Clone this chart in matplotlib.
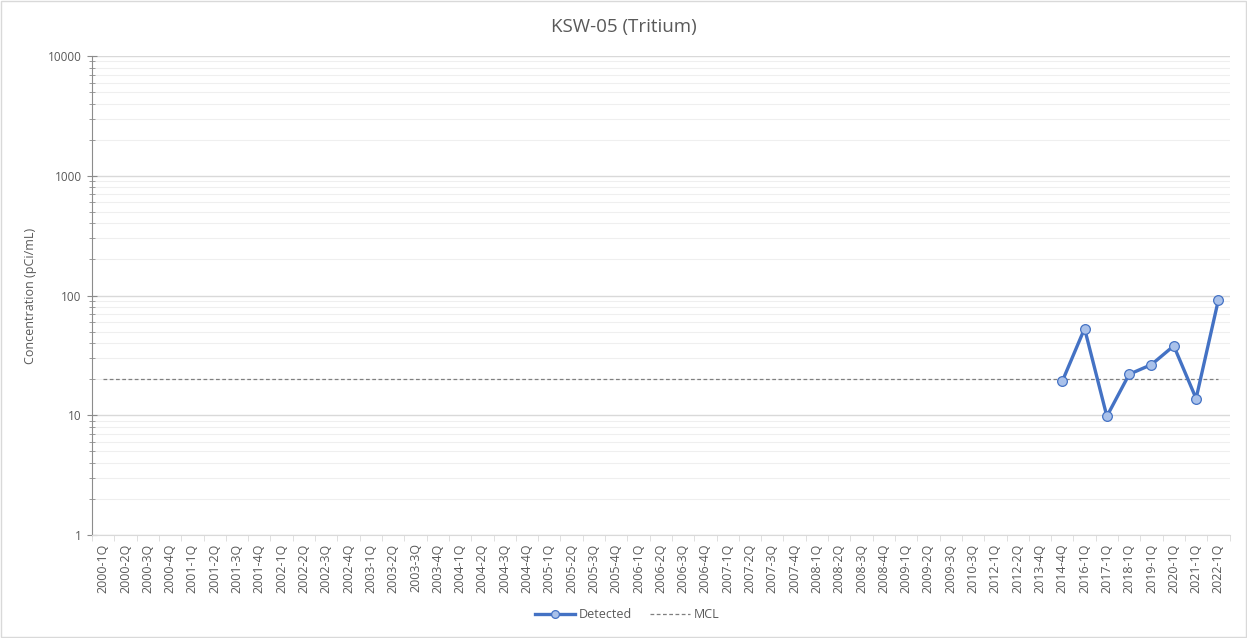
import numpy as np
import matplotlib.pyplot as plt
from matplotlib.ticker import LogLocator, FixedLocator, NullFormatter
from matplotlib.patches import Rectangle

plt.rcParams['font.family'] = ['Open Sans', 'DejaVu Sans']

# Sampling events (quarters)
quarters = [
    '2000-1Q', '2000-2Q', '2000-3Q', '2000-4Q', '2001-1Q', '2001-2Q', '2001-3Q', '2001-4Q',
    '2002-1Q', '2002-2Q', '2002-3Q', '2002-4Q', '2003-1Q', '2003-2Q', '2003-3Q', '2003-4Q',
    '2004-1Q', '2004-2Q', '2004-3Q', '2004-4Q', '2005-1Q', '2005-2Q', '2005-3Q', '2005-4Q',
    '2006-1Q', '2006-2Q', '2006-3Q', '2006-4Q', '2007-1Q', '2007-2Q', '2007-3Q', '2007-4Q',
    '2008-1Q', '2008-2Q', '2008-3Q', '2008-4Q', '2009-1Q', '2009-2Q', '2009-3Q', '2010-3Q',
    '2012-1Q', '2012-2Q', '2013-4Q', '2014-4Q', '2016-1Q', '2017-1Q', '2018-1Q', '2019-1Q',
    '2020-1Q', '2021-1Q', '2022-1Q',
]

# Detected tritium results (pCi/mL)
detected_quarters = ['2014-4Q', '2016-1Q', '2017-1Q', '2018-1Q', '2019-1Q',
                     '2020-1Q', '2021-1Q', '2022-1Q']
detected_values = [19.2, 53.0, 9.8, 22.0, 26.5, 38.0, 13.8, 92.0]

mcl = 20

blue = '#4472C4'
gray_txt = '#595959'

x = np.arange(len(quarters))
xd = [quarters.index(q) for q in detected_quarters]

fig = plt.figure(figsize=(12.47, 6.38), dpi=100)
ax = fig.add_axes([0.0738, 0.1614, 0.9122, 0.7508])

ax.set_yscale('log')
ax.set_ylim(1, 10000)
ax.set_xlim(-0.5, len(quarters) - 0.5)

# gridlines
ax.yaxis.set_major_locator(LogLocator(base=10, numticks=10))
ax.yaxis.set_minor_locator(LogLocator(base=10, subs=np.arange(2, 10), numticks=10))
ax.yaxis.set_minor_formatter(NullFormatter())
ax.grid(True, which='major', axis='y', color='#d9d9d9', linewidth=1.0)
ax.grid(True, which='minor', axis='y', color='#efefef', linewidth=0.8)
ax.set_axisbelow(True)

ax.plot(x, [mcl] * len(quarters), color='#7f7f7f', linestyle=(0, (3, 2)),
        linewidth=0.9, label='MCL', zorder=2)
ax.plot(xd, detected_values, color=blue, linewidth=2.4, marker='o',
        markersize=7, markerfacecolor='#a9c1ea', markeredgecolor=blue,
        markeredgewidth=0.9, label='Detected', zorder=3)

ax.set_yticks([1, 10, 100, 1000, 10000])
ax.set_yticklabels(['1', '10', '100', '1000', '10000'])
ax.tick_params(axis='y', which='major', direction='inout', length=7, color='#8c8c8c',
               labelsize=8.5, labelcolor=gray_txt, pad=4)
ax.tick_params(axis='y', which='minor', direction='inout', length=5, color='#8c8c8c')

ax.set_xticks(x)
ax.set_xticklabels(quarters, rotation=90)
ax.xaxis.set_minor_locator(FixedLocator(np.arange(-0.5, len(quarters), 1)))
ax.tick_params(axis='x', which='major', length=0, labelsize=9, labelcolor=gray_txt, pad=6)
ax.tick_params(axis='x', which='minor', length=4, color='#d9d9d9')

for side in ['top', 'right']:
    ax.spines[side].set_visible(False)
ax.spines['left'].set_color('#8c8c8c')
ax.spines['bottom'].set_color('#d9d9d9')

ax.set_ylabel('Concentration (pCi/mL)', fontsize=9, color=gray_txt, labelpad=8)
fig.text(0.5, 0.958, 'KSW-05 (Tritium)', ha='center', va='center', fontsize=13.5,
         color=gray_txt)

h, l = ax.get_legend_handles_labels()
fig.legend(h[::-1], l[::-1], loc='center', bbox_to_anchor=(0.503, 0.037), ncol=2,
           frameon=False, fontsize=9, labelcolor=gray_txt, handlelength=3.2,
           columnspacing=1.5, handletextpad=0.3, markerscale=0.8)

fig.patches.append(Rectangle((0.001, 0.002), 0.998, 0.996, transform=fig.transFigure,
                             fill=False, edgecolor='#d9d9d9', linewidth=1))

fig.savefig('out.png', dpi=100)
